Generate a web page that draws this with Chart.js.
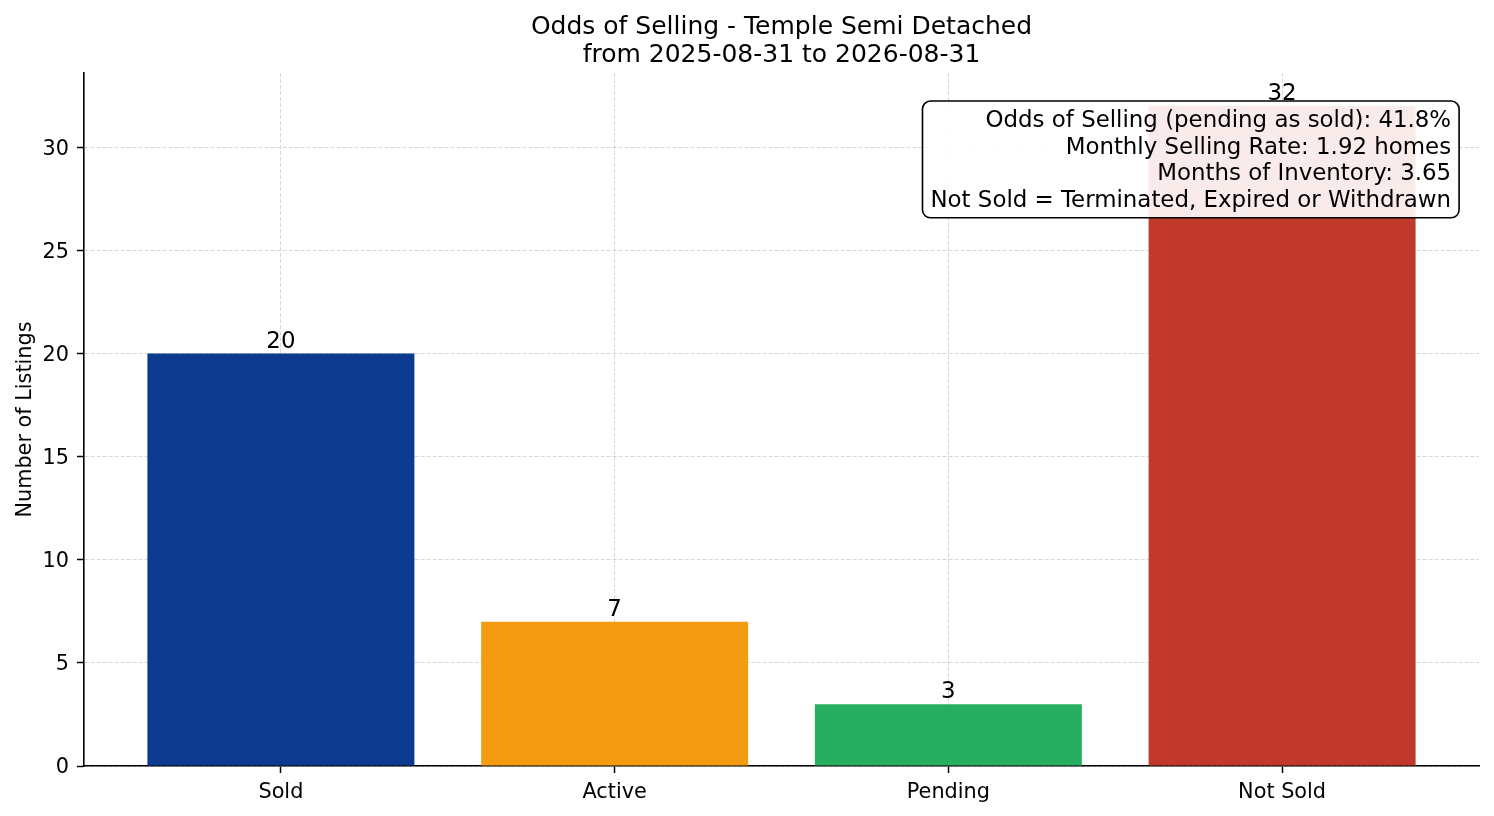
<!DOCTYPE html>
<html>
<head>
<meta charset="utf-8">
<script src="https://cdn.jsdelivr.net/npm/chart.js@4"></script>
<style>
    html, body { margin: 0; padding: 0; background: #ffffff; }
    #wrap { width: 1494px; height: 816px; }
</style>
</head>
<body>
<div id="wrap"><canvas id="canvas1"></canvas></div>
<script>
// values
const categories = ["Sold", "Active", "Pending", "Not Sold"];
const counts = [20, 7, 3, 32];
const barColors = ["#0b3a8e", "#f39c12", "#27ae60", "#c0392b"];
const yTicks = [0, 5, 10, 15, 20, 25, 30];
const titleLines = ["Odds of Selling - Temple Semi Detached", "from 2025-08-31 to 2026-08-31"];
const infoLines = [
    "Odds of Selling (pending as sold): 41.8%",
    "Monthly Selling Rate: 1.92 homes",
    "Months of Inventory: 3.65",
    "Not Sold = Terminated, Expired or Withdrawn"
];

const FONT = "'DejaVu Sans', sans-serif";
const gridColor = "rgba(176,176,176,0.5)";

// numbers on top of the bars
const valueLabels = {
    id: "valueLabels",
    afterDatasetsDraw(chart) {
        let ctx = chart.ctx;
        let meta = chart.getDatasetMeta(0);
        ctx.save();
        ctx.font = "22.9px " + FONT;
        ctx.fillStyle = "#000";
        ctx.textAlign = "center";
        ctx.textBaseline = "alphabetic";
        meta.data.forEach(function (bar, i) {
            ctx.fillText(String(counts[i]), bar.x, bar.y - 6);
        });
        ctx.restore();
    }
};

// rounded info box, top right of the plot
const infoBox = {
    id: "infoBox",
    afterDraw(chart) {
        let ctx = chart.ctx;
        let area = chart.chartArea;
        ctx.save();
        ctx.font = "22.9px " + FONT;
        let maxW = 0;
        infoLines.forEach(function (t) {
            maxW = Math.max(maxW, ctx.measureText(t).width);
        });
        let lineH = 26.7;
        let pad = 8;
        let textRight = area.left + 0.98 * (area.right - area.left);
        let boxTop = area.top + 28;
        let boxH = lineH * infoLines.length + 10;
        let boxLeft = textRight - maxW - pad;
        let boxW = maxW + 2 * pad;
        ctx.beginPath();
        ctx.roundRect(boxLeft, boxTop, boxW, boxH, 8);
        ctx.fillStyle = "rgba(255,255,255,0.9)";
        ctx.fill();
        ctx.lineWidth = 1.6;
        ctx.strokeStyle = "#000";
        ctx.stroke();
        ctx.fillStyle = "#000";
        ctx.textAlign = "right";
        ctx.textBaseline = "middle";
        infoLines.forEach(function (t, i) {
            ctx.fillText(t, textRight, boxTop + 20 + i * lineH);
        });
        ctx.restore();
    }
};

let chartdata = {
    datasets: [{
        label: "Listings",
        data: categories.map(function (c, i) { return { x: i, y: counts[i] }; }),
        backgroundColor: barColors,
        borderWidth: 0,
        barPercentage: 0.8,
        categoryPercentage: 1.0
    }]
};

new Chart(document.getElementById("canvas1"), {
    type: "bar",
    data: chartdata,
    options: {
        responsive: true,
        maintainAspectRatio: false,
        animation: false,
        devicePixelRatio: 1,
        layout: { padding: { left: 0, right: 15, top: 0, bottom: 0 } },
        plugins: {
            legend: { display: false },
            tooltip: { enabled: false },
            title: {
                display: true,
                fullSize: false,
                text: titleLines,
                color: "#000",
                font: { family: FONT, size: 25, weight: "normal", lineHeight: 1.12 },
                padding: { top: 13, bottom: 4 }
            }
        },
        scales: {
            x: {
                type: "linear",
                min: -0.59,
                max: 3.59,
                offset: false,
                z: 1,
                afterBuildTicks: function (scale) {
                    scale.ticks = categories.map(function (c, i) { return { value: i }; });
                },
                afterFit: function (scale) { scale.height = 50; },
                ticks: {
                    color: "#000",
                    font: { family: FONT, size: 20.8 },
                    padding: 7,
                    maxRotation: 0,
                    callback: function (v) { return categories[v]; }
                },
                grid: {
                    offset: false,
                    color: gridColor,
                    lineWidth: 1,
                    tickColor: "#000",
                    tickLength: 7,
                    tickWidth: 1.5,
                    tickBorderDash: []
                },
                border: { display: true, color: "#000", width: 1.6, dash: [4, 2] }
            },
            y: {
                min: 0,
                max: 33.6,
                z: 1,
                afterBuildTicks: function (scale) {
                    scale.ticks = yTicks.map(function (v) { return { value: v }; });
                },
                afterFit: function (scale) { scale.width = 84; },
                ticks: {
                    color: "#000",
                    font: { family: FONT, size: 20.8 },
                    padding: 8,
                    labelOffset: 2
                },
                title: {
                    display: true,
                    text: "Number of Listings",
                    color: "#000",
                    font: { family: FONT, size: 20.8 },
                    padding: { top: 13, bottom: 0 }
                },
                grid: {
                    color: gridColor,
                    lineWidth: 1,
                    tickColor: "#000",
                    tickLength: 7,
                    tickWidth: 1.5,
                    tickBorderDash: []
                },
                border: { display: true, color: "#000", width: 1.6, dash: [4, 2] }
            }
        }
    },
    plugins: [valueLabels, infoBox]
});
</script>
</body>
</html>
